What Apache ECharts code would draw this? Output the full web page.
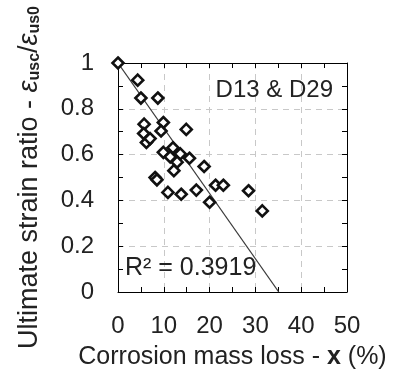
<!DOCTYPE html>
<html><head><meta charset="utf-8">
<script src="https://cdn.jsdelivr.net/npm/echarts@6/dist/echarts.min.js"></script>
<style>html,body{margin:0;padding:0;background:#fff}#c{width:401px;height:375px}</style>
</head><body><div id="c"></div>
<script>
// Data
const corrosionX = [0, 4.3, 5.0, 8.7, 5.7, 5.6, 6.2, 7.0, 9.9, 9.4, 14.9, 9.9, 12.0, 11.4, 13.6, 12.9, 12.2, 15.6, 18.8, 8.1, 8.5, 10.9, 13.8, 17.1, 21.3, 23.0, 20.0, 28.5, 31.5];
const strainRatio = [1.0, 0.925, 0.847, 0.847, 0.733, 0.692, 0.653, 0.67, 0.74, 0.703, 0.71, 0.61, 0.63, 0.59, 0.603, 0.567, 0.53, 0.584, 0.548, 0.5, 0.49, 0.435, 0.427, 0.445, 0.466, 0.466, 0.392, 0.442, 0.354];
const fitLineX = [0, 35.1];
const fitLineY = [1, 0];
const xTickLabels = ['0', '10', '20', '30', '40', '50'];
const yTickLabels = ['0', '0.2', '0.4', '0.6', '0.8', '1'];
const groupLabel = 'D13 & D29';
const r2Label = 'R\u00B2 = 0.3919';

const FONT = "'Liberation Sans', Arial, Helvetica, sans-serif";
const TXT = '#222';

const points = corrosionX.map((x, i) => [x, strainRatio[i]]);
const fitPts = fitLineX.map((x, i) => [x, fitLineY[i]]);

const chart = echarts.init(document.getElementById('c'), null, {renderer: 'canvas'});

function baseAxis(extra) {
  return Object.assign({
    type: 'value',
    axisLine: {show: true, onZero: false, lineStyle: {color: '#000', width: 1}},
    axisTick: {show: true, inside: true, length: 5, lineStyle: {color: '#000'}},
    minorTick: {show: true, splitNumber: 2, length: 5, lineStyle: {color: '#000'}},
    splitLine: {show: false},
    minorSplitLine: {show: false}
  }, extra);
}

chart.setOption({
  animation: false,
  backgroundColor: '#fff',
  grid: {left: 118, right: 54, top: 63, bottom: 81, containLabel: false},
  xAxis: [
    baseAxis({
      min: 0, max: 50, interval: 10, position: 'bottom',
      axisLabel: {show: true, margin: 22, color: TXT, fontSize: 24, fontFamily: FONT,
        formatter: (v) => xTickLabels[Math.round(v / 10)] ?? ''},
      splitLine: {show: true, lineStyle: {color: '#c8c8c8', type: [6, 5], width: 1}},
      name: '{n|Corrosion mass loss - }{b|x}{n| (%)}',
      nameLocation: 'middle', nameGap: 53,
      nameTextStyle: {rich: {
        n: {fontSize: 25, color: TXT, fontFamily: FONT},
        b: {fontSize: 25, color: TXT, fontFamily: FONT, fontWeight: 'bold'}
      }}
    }),
    baseAxis({min: 0, max: 50, interval: 10, position: 'top', axisLabel: {show: false}})
  ],
  yAxis: [
    baseAxis({
      min: 0, max: 1, interval: 0.2, position: 'left',
      axisLabel: {show: true, margin: 24, color: TXT, fontSize: 24, fontFamily: FONT,
        formatter: (v) => yTickLabels[Math.round(v / 0.2)] ?? ''},
      splitLine: {show: true, lineStyle: {color: '#c8c8c8', type: [6, 5], width: 1}},
      name: '{n|Ultimate strain ratio - }{e|\u03B5}{s|usc}{n|/}{e|\u03B5}{s|us0}',
      nameLocation: 'middle', nameGap: 75, nameRotate: 90,
      nameTextStyle: {rich: {
        n: {fontSize: 27, color: TXT, fontFamily: FONT},
        e: {fontSize: 27, color: TXT, fontFamily: FONT, fontStyle: 'italic'},
        s: {fontSize: 16, color: TXT, fontFamily: FONT, fontWeight: 'bold', padding: [11, 0, 0, 0]}
      }}
    }),
    baseAxis({min: 0, max: 1, interval: 0.2, position: 'right', axisLabel: {show: false}})
  ],
  series: [
    {
      type: 'line', data: fitPts, symbol: 'none', silent: true, z: 3,
      lineStyle: {color: '#3a3a3a', width: 1.3}
    },
    {
      type: 'scatter', data: points, symbol: 'diamond', symbolSize: 11, z: 4,
      itemStyle: {color: '#fff', borderColor: '#111', borderWidth: 2.6, opacity: 1}
    }
  ],
  graphic: [
    {type: 'text', right: 401 - 333, top: 78, z: 10,
      style: {text: groupLabel, fontSize: 24, fontFamily: FONT, fill: TXT}},
    {type: 'text', left: 125, top: 256, z: 10,
      style: {text: r2Label, fontSize: 25, fontFamily: FONT, fill: TXT}}
  ]
});
</script>
</body></html>
